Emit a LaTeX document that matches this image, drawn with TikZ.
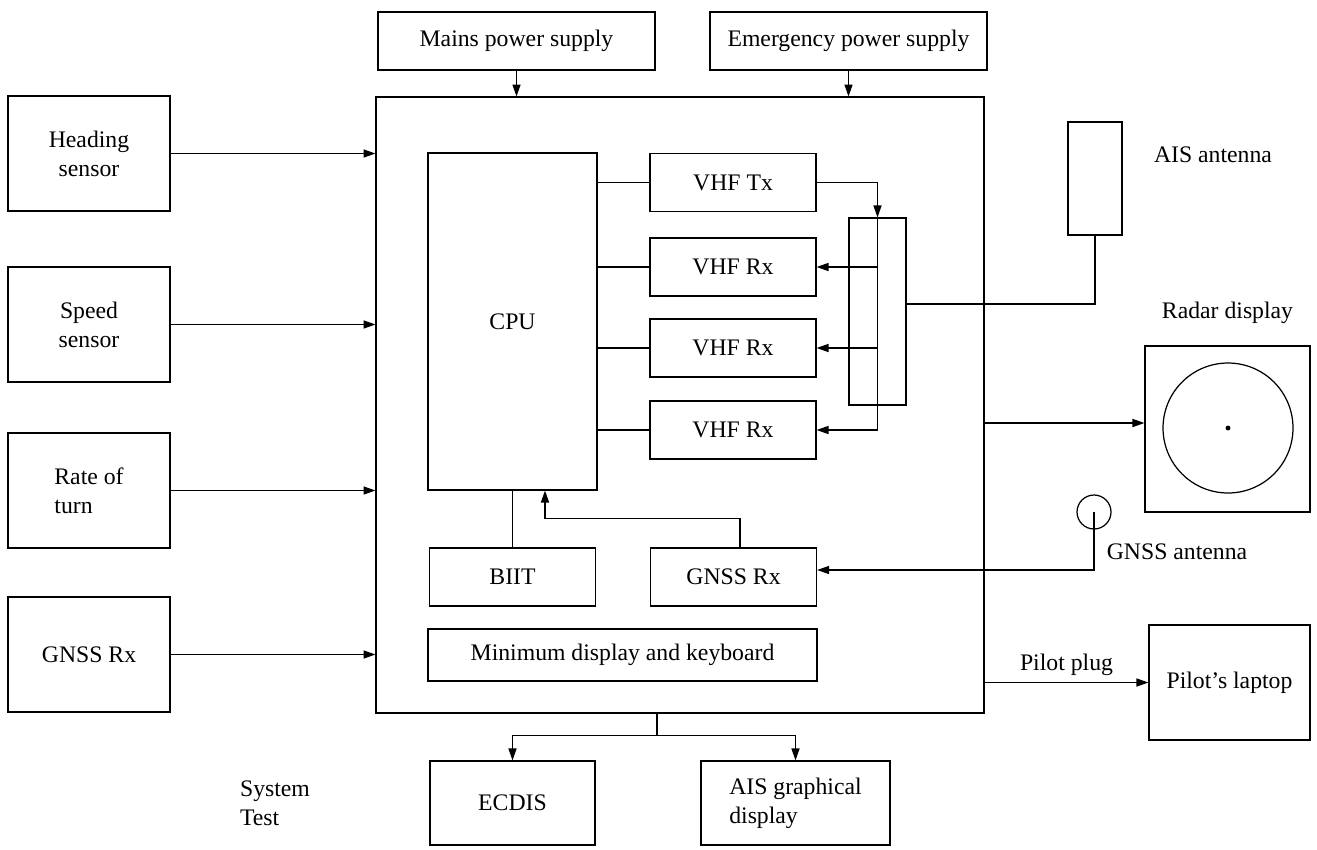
\documentclass[tikz,border=0pt]{standalone}
\usepackage{fontspec}
\setmainfont{Liberation Serif}
\usetikzlibrary{shapes,positioning,arrows.meta}

\begin{document}
\begin{tikzpicture}
[x=0.02cm, y=-0.02cm,
 >={Triangle[length=6.8pt,width=4.6pt]},
 line width=0.7pt,
 font=\fontsize{13.5}{16.5}\selectfont,
 unit/.style={shape=rectangle,draw,align=center,inner sep=0pt},
 sensor/.style={unit,minimum width=3.24cm,minimum height=2.3cm},
 module/.style={unit,minimum width=3.32cm,minimum height=1.16cm},
 supply/.style={unit,minimum width=5.54cm,minimum height=1.16cm}]
\useasboundingbox (0,0) rectangle (1317,849);
\node (mains) at (516.5,41) [supply] {Mains power supply};
\node (emerg) at (848.5,41) [supply] {Emergency power supply};
\node (main) at (680,405) [unit,minimum width=12.16cm,minimum height=12.32cm] {};
\node (heading) at (89,153.5) [sensor] {Heading\\sensor};
\node (speed) at (89,324.5) [sensor] {Speed\\sensor};
\node (turn) at (89,490.5) [sensor,align=left] {Rate of\\turn};
\node (gnssin) at (89,654.5) [sensor] {GNSS Rx};
\node (cpu) at (512.5,321.5) [unit,minimum width=3.38cm,minimum height=6.74cm] {CPU};
\node (vhftx) at (733,182.5) [module] {VHF Tx};
\node (vhfrx1) at (733,267) [module] {VHF Rx};
\node (vhfrx2) at (733,348) [module] {VHF Rx};
\node (vhfrx3) at (733,430) [module] {VHF Rx};
\node (combiner) at (877.5,311.5) [unit,minimum width=1.14cm,minimum height=3.74cm] {};
\node (biit) at (512.5,577) [module] {BIIT};
\node (gnssrx) at (733.5,577) [module] {GNSS Rx};
\node (minimum) at (622.5,655) [unit,minimum width=7.78cm,minimum height=1.04cm] {Minimum display and keyboard};
\node (ais) at (1095,178.5) [unit,minimum width=1.08cm,minimum height=2.26cm] {};
\node (aislabel) at (1213,155) {AIS antenna};
\node (radar) at (1227.5,429) [unit,minimum width=3.3cm,minimum height=3.32cm] {};
\node (screen) at (1228,428) [circle,draw,minimum size=2.6cm,inner sep=0pt] {};
\fill (screen.center) circle (1.4pt);
\node (radarlabel) [above=0.3cm of radar] {Radar display};
\node (gant) at (1094,512) [circle,draw,minimum size=0.68cm,inner sep=0pt] {};
\node (gantlabel) at (1177,552) {GNSS antenna};
\node (laptop) at (1229.5,682.5) [unit,minimum width=3.22cm,minimum height=2.3cm] {Pilot's laptop};
\node (ecdis) at (512.5,803) [unit,minimum width=3.3cm,minimum height=1.68cm] {ECDIS};
\node (aisdisp) at (795.5,803) [unit,minimum width=3.78cm,minimum height=1.68cm,align=left] {AIS graphical\\display};
\node (systest) at (275,803) [align=left] {System\\Test};
\draw[->] (mains.south) -- (mains.south |- main.north);
\draw[->] (emerg.south) -- (emerg.south |- main.north);
\draw[->] (heading.east) -- (heading.east -| main.west);
\draw[->] (speed.east) -- (speed.east -| main.west);
\draw[->] (turn.east) -- (turn.east -| main.west);
\draw[->] (gnssin.east) -- (gnssin.east -| main.west);
\draw (cpu.east |- vhftx.west) -- (vhftx.west);
\draw (cpu.east |- vhfrx1.west) -- (vhfrx1.west);
\draw (cpu.east |- vhfrx2.west) -- (vhfrx2.west);
\draw (cpu.east |- vhfrx3.west) -- (vhfrx3.west);
\draw[->] (vhftx.east) -| (combiner.north);
\draw (combiner.north) -- (combiner.center |- vhfrx3.east);
\draw[->] (combiner.center |- vhfrx1.east) -- (vhfrx1.east);
\draw[->] (combiner.center |- vhfrx2.east) -- (vhfrx2.east);
\draw[->] (combiner.center |- vhfrx3.east) -- (vhfrx3.east);
\draw ([yshift=0.15cm]combiner.east) -| (ais.south);
\draw (biit.north) -- (biit.north |- cpu.south);
\draw[->] ([xshift=0.13cm]gnssrx.north) -- ++(0,-29) -| ([xshift=0.65cm]cpu.south);
\draw[->] (gant.center) |- ([yshift=0.14cm]gnssrx.east);
\draw[->] ([yshift=0.12cm]radar.west -| main.east) -- ([yshift=0.12cm]radar.west);
\draw[->] (main.east |- laptop.west) -- (laptop.west) node[midway,above] {Pilot plug};
\draw ([xshift=-0.46cm]main.south) -- ++(0,22) coordinate (split);
\draw[->] (split) -| (ecdis.north);
\draw[->] (split) -| (aisdisp.north);
\end{tikzpicture}
\end{document}
